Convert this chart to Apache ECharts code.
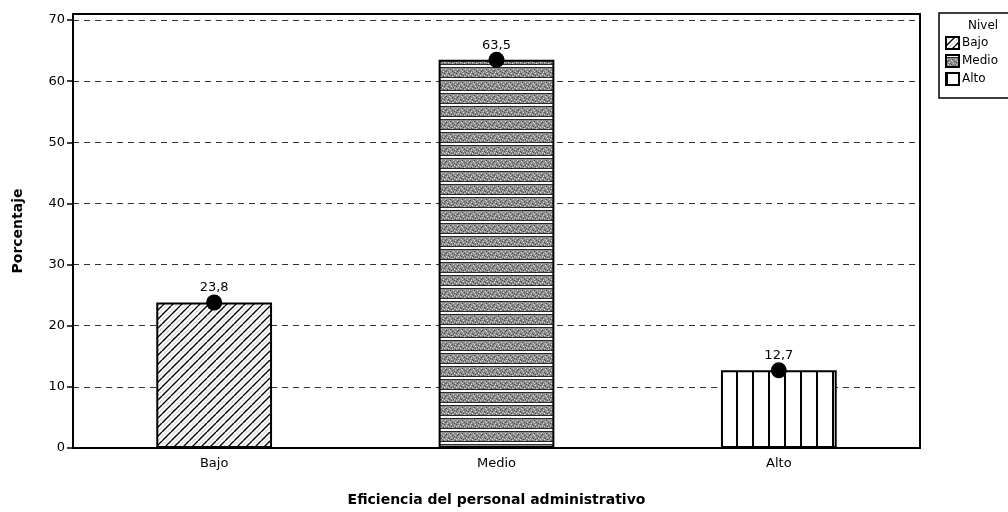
<!DOCTYPE html>
<html>
<head>
<meta charset="utf-8">
<script src="https://cdn.jsdelivr.net/npm/echarts@6/dist/echarts.min.js"></script>
<style>
  html, body { margin: 0; padding: 0; background: #fff; }
  #chart { width: 1008px; height: 512px; }
</style>
</head>
<body>
<div id="chart"></div>
<script>
// Levels of administrative staff efficiency and their percentages
const categories = ['Bajo', 'Medio', 'Alto'];
const values = [23.8, 63.5, 12.7];
const yTicks = [0, 10, 20, 30, 40, 50, 60, 70];

const FONT = '"DejaVu Sans", Verdana, sans-serif';

// Fill textures for the three levels
function hatchPattern() {
  const c = document.createElement('canvas');
  c.width = 9; c.height = 9;
  const g = c.getContext('2d');
  g.fillStyle = '#fff'; g.fillRect(0, 0, 9, 9);
  g.strokeStyle = 'rgba(120,120,120,0.45)'; g.lineWidth = 1;
  g.beginPath();
  g.moveTo(-4.5, 9); g.lineTo(4.5, 0);
  g.moveTo(4.5, 9); g.lineTo(13.5, 0);
  g.stroke();
  g.strokeStyle = '#000'; g.lineWidth = 1.4;
  g.beginPath();
  g.moveTo(0, 9); g.lineTo(9, 0);
  g.moveTo(-9, 9); g.lineTo(0, 0);
  g.moveTo(9, 9); g.lineTo(18, 0);
  g.stroke();
  return c;
}
function bandPattern() {
  const w = 12, h = 13;
  const c = document.createElement('canvas');
  c.width = w; c.height = h;
  const g = c.getContext('2d');
  g.fillStyle = '#fff'; g.fillRect(0, 0, w, h);
  g.fillStyle = '#2a2a2a'; g.fillRect(0, 2, w, 1);
  g.fillStyle = '#8e8e8e'; g.fillRect(0, 3, w, 9);
  g.fillStyle = '#2a2a2a'; g.fillRect(0, 12, w, 1);
  // dithered texture inside the band
  const light = [[1,4],[5,5],[9,4],[3,7],[7,8],[11,6],[0,10],[4,10],[8,11],[2,9],[10,9],[6,6]];
  const dark = [[2,5],[6,4],[10,7],[0,8],[4,8],[8,6],[3,11],[7,10],[11,11],[5,9],[9,9],[1,6]];
  g.fillStyle = '#d8d8d8';
  light.forEach(p => g.fillRect(p[0], p[1], 1, 1));
  g.fillStyle = '#4a4a4a';
  dark.forEach(p => g.fillRect(p[0], p[1], 1, 1));
  return c;
}
function stripePattern() {
  const c = document.createElement('canvas');
  c.width = 16; c.height = 4;
  const g = c.getContext('2d');
  g.fillStyle = '#fff'; g.fillRect(0, 0, 16, 4);
  g.fillStyle = '#000'; g.fillRect(0, 0, 2, 4);
  return c;
}
const fills = [
  { image: hatchPattern(), repeat: 'repeat' },
  { image: bandPattern(), repeat: 'repeat' },
  { image: stripePattern(), repeat: 'repeat' }
];

const barSeries = categories.map((name, i) => ({
  name: name,
  type: 'bar',
  barWidth: '41%',
  barGap: '-100%',
  data: categories.map((_, j) => (j === i ? values[j] : '-')),
  itemStyle: { color: fills[i], borderColor: '#000', borderWidth: 2 },
  emphasis: { disabled: true },
  silent: true
}));

const chart = echarts.init(document.getElementById('chart'), null, { renderer: 'canvas' });
chart.setOption({
  animation: false,
  backgroundColor: '#fff',
  grid: {
    left: 73, right: 88, top: 14, bottom: 62,
    show: true, borderColor: '#000', borderWidth: 2, backgroundColor: 'transparent'
  },
  legend: {
    data: categories,
    orient: 'vertical',
    left: 939, top: 13,
    padding: [23, 12, 12, 6],
    borderColor: '#000', borderWidth: 1.5,
    itemWidth: 13, itemHeight: 12, itemGap: 4,
    icon: 'rect',
    textStyle: { fontFamily: FONT, fontSize: 12, color: '#000', padding: [0, 0, 0, -2] },
    selectedMode: false
  },
  graphic: [{
    type: 'text', left: 968, top: 20,
    style: { text: 'Nivel', font: '12px ' + FONT, fill: '#000' }
  }],
  xAxis: {
    type: 'category',
    data: categories,
    axisLine: { lineStyle: { color: '#000', width: 2 } },
    axisTick: { alignWithLabel: true, length: 6, lineStyle: { color: '#000', width: 1.5 } },
    axisLabel: { fontFamily: FONT, fontSize: 13, color: '#000', margin: 9 },
    name: 'Eficiencia del personal administrativo',
    nameLocation: 'middle', nameGap: 45,
    nameTextStyle: { fontFamily: FONT, fontSize: 14, fontWeight: 'bold', color: '#000' }
  },
  yAxis: {
    type: 'value',
    min: 0, max: 71, interval: 10,
    axisLine: { show: true, lineStyle: { color: '#000', width: 2 } },
    axisTick: { show: true, length: 6, customValues: yTicks, lineStyle: { color: '#000', width: 1.5 } },
    axisLabel: { fontFamily: FONT, fontSize: 13, color: '#000', margin: 8, customValues: yTicks },
    splitLine: { show: true, lineStyle: { color: '#333', width: 1, type: [6, 5] } },
    name: 'Porcentaje',
    nameLocation: 'middle', nameGap: 48, nameRotate: 90,
    nameTextStyle: { fontFamily: FONT, fontSize: 14, fontWeight: 'bold', color: '#000' }
  },
  series: barSeries.concat([{
    name: 'valor',
    type: 'scatter',
    data: values,
    symbol: 'circle',
    symbolSize: 16,
    itemStyle: { color: '#000', opacity: 1 },
    silent: true,
    z: 5,
    label: {
      show: true, position: 'top', distance: 0,
      fontFamily: FONT, fontSize: 13, color: '#000',
      formatter: p => String(p.value).replace('.', ',')
    }
  }])
});
</script>
</body>
</html>
